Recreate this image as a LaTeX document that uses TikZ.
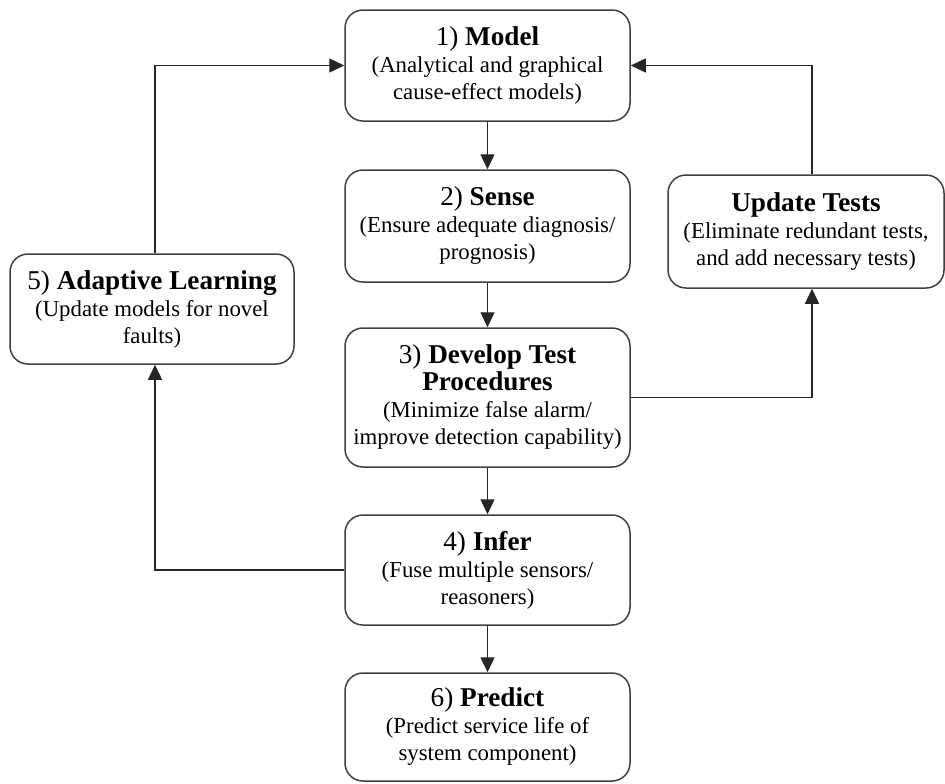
\documentclass[tikz,border=0pt]{standalone}
\usepackage{fontspec}
\setmainfont{Liberation Serif}
\usetikzlibrary{arrows.meta}
\begin{document}
\begin{tikzpicture}[x=0.5pt,y=-0.5pt,
 box/.style={draw=black!75, line width=0.75pt, rounded corners=9pt, align=center, inner sep=0pt, font=\fontsize{11.4}{13.5}\selectfont},
 ttl/.style={},
 arr/.style={draw=black!85, line width=0.7pt, -{Triangle[length=7.5pt,width=7pt]}}]
\newcommand{\ttlfont}{\fontsize{13.6}{15}\selectfont}
\useasboundingbox (0,0) rectangle (945,783);
\node[box, minimum width=142.5pt, minimum height=55.5pt] (m) at (487.5,65.5)
  {{\ttlfont 1) \textbf{Model}}\\(Analytical and graphical\\cause-effect models)};
\node[box, minimum width=142.5pt, minimum height=56pt] (s) at (487.5,226)
  {{\ttlfont 2) \textbf{Sense}}\\(Ensure adequate diagnosis/\\prognosis)};
\node[box, minimum width=142.5pt, minimum height=69.5pt] (d) at (487.5,397.5)
  {{\ttlfont 3) \textbf{Develop Test}}\\{\ttlfont\textbf{Procedures}}\\(Minimize false alarm/\\improve detection capability)};
\node[box, minimum width=142.5pt, minimum height=55pt] (i) at (487.5,570)
  {{\ttlfont 4) \textbf{Infer}}\\(Fuse multiple sensors/\\reasoners)};
\node[box, minimum width=142.5pt, minimum height=54pt] (p) at (487.5,727)
  {{\ttlfont 6) \textbf{Predict}}\\(Predict service life of\\system component)};
\node[box, minimum width=138pt, minimum height=56.5pt] (u) at (806,231.5)
  {{\ttlfont\textbf{Update Tests}}\\(Eliminate redundant tests,\\and add necessary tests)};
\node[box, minimum width=142pt, minimum height=55pt] (a) at (152,309)
  {{\ttlfont 5) \textbf{Adaptive Learning}}\\(Update models for novel\\faults)};
\coordinate (uc) at (812,0);
\coordinate (ac) at (155,0);
\draw[arr] (m) -- (s);
\draw[arr] (s) -- (d);
\draw[arr] (d) -- (i);
\draw[arr] (i) -- (p);
\draw[arr] (d.east) -| (u.south -| uc);
\draw[arr] (u.north -| uc) |- (m.east);
\draw[arr] (i.west) -| (a.south -| ac);
\draw[arr] (a.north -| ac) |- (m.west);
\end{tikzpicture}
\end{document}
